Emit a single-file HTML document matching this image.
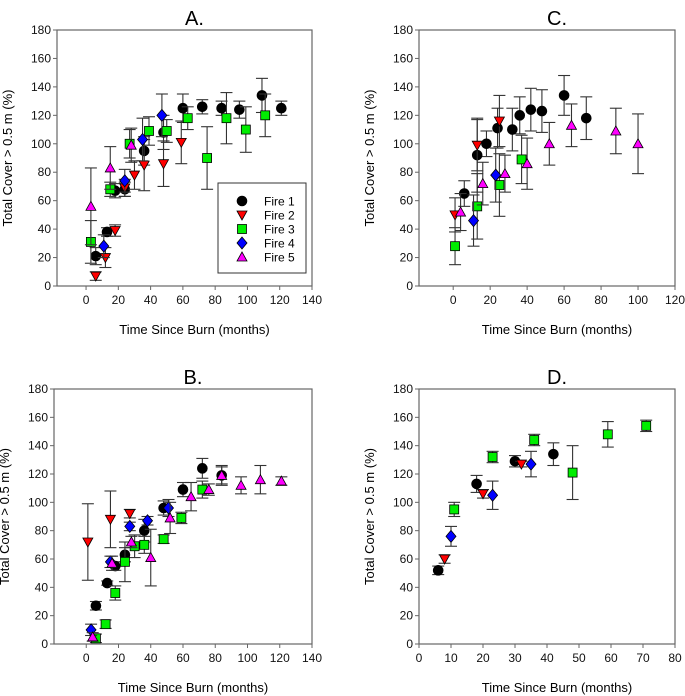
<!DOCTYPE html>
<html><head><meta charset="utf-8"><style>
body{margin:0;background:#fff;}
svg{display:block;font-family:"Liberation Sans",Arial,sans-serif;}
</style></head><body>
<svg id="fig" width="685" height="696"></svg>
<script>
// Panel A data [x, y, err]
const aFire1=[[6,21,6],[13,38,3],[18,67,5],[24,68,5],[36,95,10],[48,108,12],[60,125,10],[72,126,5],[84,125,5],[95,124,6],[109,134,12],[121,125,5]];
const aFire2=[[6,7,3],[12,20,7],[18,39,4],[24,69,6],[30,78,10],[36,85,18],[48,86,16],[59,101,15]];
const aFire3=[[3,31,15],[15,68,5],[27,100,10],[39,109,10],[50,109,8],[63,118,8],[75,90,22],[87,118,18],[99,110,16],[111,120,15]];
const aFire4=[[11,28,8],[24,74,8],[35,103,15],[47,120,15]];
const aFire5=[[3,56,27],[15,83,15],[28,99,12]];
// Panel B
const bFire1=[[6,27,3],[13,43,1.5],[18,55,3],[24,63,5],[36,80,8],[48,96,5],[60,109,5],[72,124,7],[84,119,6]];
const bFire2=[[1,72,27],[15,88,20],[27,92,3]];
const bFire3=[[6,4,3],[12,14,3],[18,36,5],[24,58,14],[30,69,8],[36,70,6],[48,74,3],[59,89,4],[72,109,6]];
const bFire4=[[3,10,4],[15,58,4],[27,83,3],[38,87,3],[51,96,6]];
const bFire5=[[4,5,3],[16,57,5],[28,72,4],[40,61,20],[52,89,11],[65,104,10],[76,109,4],[84,119,7],[96,112,6],[108,116,10],[121,115,3]];
// Panel C
const cFire1=[[6,65,9],[13,92,26],[18,100,9],[24,111,14],[32,110,15],[36,120,13],[42,124,15],[48,123,15],[60,134,14],[72,118,15]];
const cFire2=[[1,50,12],[13,99,18],[25,116,18]];
const cFire3=[[1,28,13],[13,56,23],[25,71,22],[37,89,17]];
const cFire4=[[11,46,18],[23,78,19]];
const cFire5=[[4,52,13],[16,72,15],[28,79,13],[40,86,18],[52,100,15],[64,113,15],[88,109,16],[100,100,21]];
// Panel D
const dFire1=[[6,52,3],[18,113,6],[30,129,4],[42,134,8]];
const dFire2=[[8,60,3],[20,106,3],[32,127,2]];
const dFire3=[[11,95,5],[23,132,4],[36,144,4],[48,121,19],[59,148,9],[71,154,4]];
const dFire4=[[10,76,7],[23,105,10],[35,127,9]];
const dFire5=[];
const yTicks=[0,20,40,60,80,100,120,140,160,180];
const xTicksAB=[0,20,40,60,80,100,120,140];
const xTicksC=[0,20,40,60,80,100,120];
const xTicksD=[0,10,20,30,40,50,60,70,80];
const seriesNames=["Fire 1","Fire 2","Fire 3","Fire 4","Fire 5"];

const NS="http://www.w3.org/2000/svg";
const svg=document.getElementById('fig');
function mk(tag,attrs,parent){const e=document.createElementNS(NS,tag);for(const k in attrs)e.setAttribute(k,attrs[k]);(parent||svg).appendChild(e);return e;}
const colors=["#000000","#ff0000","#00ee00","#0000ff","#ff00ff"];
function marker(g,k,cx,cy){
  let e;
  if(k===0){e=mk('circle',{cx:cx,cy:cy,r:4.8,fill:colors[0],stroke:'#000'},g);}
  else if(k===1){e=mk('polygon',{points:`${cx-5},${cy-4} ${cx+5},${cy-4} ${cx},${cy+5}`,fill:colors[1],stroke:'#000','stroke-width':0.8},g);}
  else if(k===2){e=mk('rect',{x:cx-4.5,y:cy-4.5,width:9,height:9,fill:colors[2],stroke:'#000','stroke-width':0.8},g);}
  else if(k===3){e=mk('polygon',{points:`${cx},${cy-6} ${cx+5},${cy} ${cx},${cy+6} ${cx-5},${cy}`,fill:colors[3],stroke:'#000','stroke-width':0.8},g);}
  else {e=mk('polygon',{points:`${cx-5},${cy+4} ${cx+5},${cy+4} ${cx},${cy-5}`,fill:colors[4],stroke:'#000','stroke-width':0.8},g);}
  return e;
}
function panel(name,title,L,R,T,B,xmin,xmax,xTicks,series){
  const g=mk('g',{});
  
  
  const xs=v=>L+(v-xmin)/(xmax-xmin)*(R-L);
  const ys=v=>B-v/180*(B-T);
  mk('rect',{x:L,y:T,width:R-L,height:B-T,fill:'none',stroke:'#666','stroke-width':1.2},g);
  const t=mk('text',{x:(L+R)/2+10,y:T-5,'font-size':20,'text-anchor':'middle',fill:'#000'},g);t.textContent=title;
  
  yTicks.forEach(v=>{const y=ys(v);mk('line',{x1:L-4,x2:L,y1:y,y2:y,stroke:'#666'},g);
    const tx=mk('text',{x:L-6,y:y+4,'font-size':12,'text-anchor':'end',fill:'#111'},g);tx.textContent=v;
    });
  xTicks.forEach(v=>{const x=xs(v);mk('line',{x1:x,x2:x,y1:B,y2:B+4,stroke:'#666'},g);
    const tx=mk('text',{x:x,y:B+18,'font-size':12,'text-anchor':'middle',fill:'#111'},g);tx.textContent=v;
    });
  const xl=mk('text',{x:(L+R)/2+10,y:B+48,'font-size':13,'text-anchor':'middle',fill:'#000'},g);xl.textContent='Time Since Burn (months)';
  
  const yc=(T+B)/2;const yx=L-45;
  const yl=mk('text',{x:yx,y:yc,'font-size':13,'text-anchor':'middle',fill:'#000',transform:`rotate(-90 ${yx} ${yc})`},g);yl.textContent='Total Cover > 0.5 m (%)';
  
  series.forEach((s,k)=>{
    const sg=mk('g',{},g);
    
    
    s.forEach(p=>{const x=xs(p[0]),y=ys(p[1]),y1=ys(p[1]+p[2]),y2=ys(p[1]-p[2]);
      mk('line',{x1:x,x2:x,y1:y1,y2:y2,stroke:'#333','stroke-width':1.1},sg);
      mk('line',{x1:x-6,x2:x+6,y1:y1,y2:y1,stroke:'#333','stroke-width':1.1},sg);
      mk('line',{x1:x-6,x2:x+6,y1:y2,y2:y2,stroke:'#333','stroke-width':1.1},sg);});
    s.forEach(p=>{const m=marker(sg,k,xs(p[0]),ys(p[1]));
      
      });
  });
  return g;
}
panel('a','A.',57,312,30,286,-18,140,xTicksAB,[aFire1,aFire2,aFire3,aFire4,aFire5]);
panel('c','C.',419,675,30,286,-18.5,120,xTicksC,[cFire1,cFire2,cFire3,cFire4,cFire5]);
panel('b','B.',54,312,389,644,-20,140,xTicksAB,[bFire1,bFire2,bFire3,bFire4,bFire5]);
panel('d','D.',419,675,389,644,0,80,xTicksD,[dFire1,dFire2,dFire3,dFire4,dFire5]);
// legend in panel A
const lg=mk('g',{});


mk('rect',{x:218,y:183,width:88,height:90,fill:'#fff',stroke:'#333','stroke-width':1},lg);
seriesNames.forEach((n,k)=>{const y=201+k*14;
  const e=mk('g',{},lg);
  
  
  marker(e,k,242,y);
  const t=mk('text',{x:264,y:y+4.5,'font-size':12,fill:'#000'},e);t.textContent=n;});
</script>
</body></html>
